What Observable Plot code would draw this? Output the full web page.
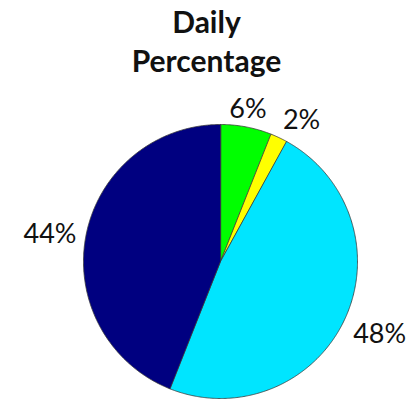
<!DOCTYPE html>
<html>
<head>
<meta charset="utf-8">
<script src="https://cdn.jsdelivr.net/npm/d3@7"></script>
<script src="https://cdn.jsdelivr.net/npm/@observablehq/plot@0.6"></script>
<style>
  html, body { margin: 0; padding: 0; background: #fff; }
  #wrap { width: 409px; height: 404px; position: relative; overflow: hidden; }
  #title { position: absolute; left: 0; top: 2px; width: 413px; text-align: center;
    font-family: Lato, "Open Sans", sans-serif; font-weight: bold; font-size: 30px; line-height: 39px; color: #111; }
  #chart { position: absolute; left: 0; top: 86px; }
</style>
</head>
<body>
<div id="wrap">
  <div id="title">Daily<br>Percentage</div>
  <div id="chart"></div>
</div>
<script>
const categories = ["A", "B", "C", "D"];
const values = [6, 2, 48, 44];
const labels = ["6%", "2%", "48%", "44%"];
const colors = ["#00ff00", "#ffff00", "#00e5ff", "#000080"];

const pie = d3.pie().sort(null).value(d => d.value)(
  categories.map((c, i) => ({name: c, value: values[i], label: labels[i]}))
);

// polygon points for each slice (angles clockwise from 12 o'clock)
const pts = [];
for (const s of pie) {
  pts.push({name: s.data.name, x: 0, y: 0});
  const n = Math.max(2, Math.ceil((s.endAngle - s.startAngle) / (Math.PI / 360)));
  for (let k = 0; k <= n; k++) {
    const a = s.startAngle + (s.endAngle - s.startAngle) * k / n;
    pts.push({name: s.data.name, x: Math.sin(a), y: Math.cos(a)});
  }
}

const R = 1.07;
const lab = pie.map(s => {
  const a = (s.startAngle + s.endAngle) / 2;
  const sx = Math.sin(a), cy = Math.cos(a);
  return {
    label: s.data.label,
    x: sx * R, y: cy * R,
    ta: sx > 0.3 ? "start" : sx < -0.3 ? "end" : "middle",
    la: cy > 0.3 ? "bottom" : cy < -0.3 ? "top" : "middle"
  };
});
const combos = Array.from(new Set(lab.map(d => d.ta + "|" + d.la)));
const textMarks = combos.map(c => {
  const [ta, la] = c.split("|");
  return Plot.text(lab.filter(d => d.ta === ta && d.la === la), {
    x: "x", y: "y", text: "label", textAnchor: ta, lineAnchor: la,
    fontSize: 27, fontFamily: "Lato, 'Open Sans', sans-serif", fill: "#111"
  });
});

const cx = 220, cy = 175, r = 137;
const plot = Plot.plot({
  width: 409, height: 318,
  margin: 0,
  x: {domain: [-1, 1], range: [cx - r, cx + r], axis: null},
  y: {domain: [-1, 1], range: [cy + r, cy - r], axis: null},
  color: {domain: categories, range: colors},
  style: {background: "transparent", overflow: "visible"},
  marks: [
    Plot.line(pts, {x: "x", y: "y", z: "name", fill: "name", stroke: "#3a3a3a", strokeWidth: 0.8, curve: "linear-closed"}),
    ...textMarks
  ]
});
document.getElementById("chart").appendChild(plot);
</script>
</body>
</html>
